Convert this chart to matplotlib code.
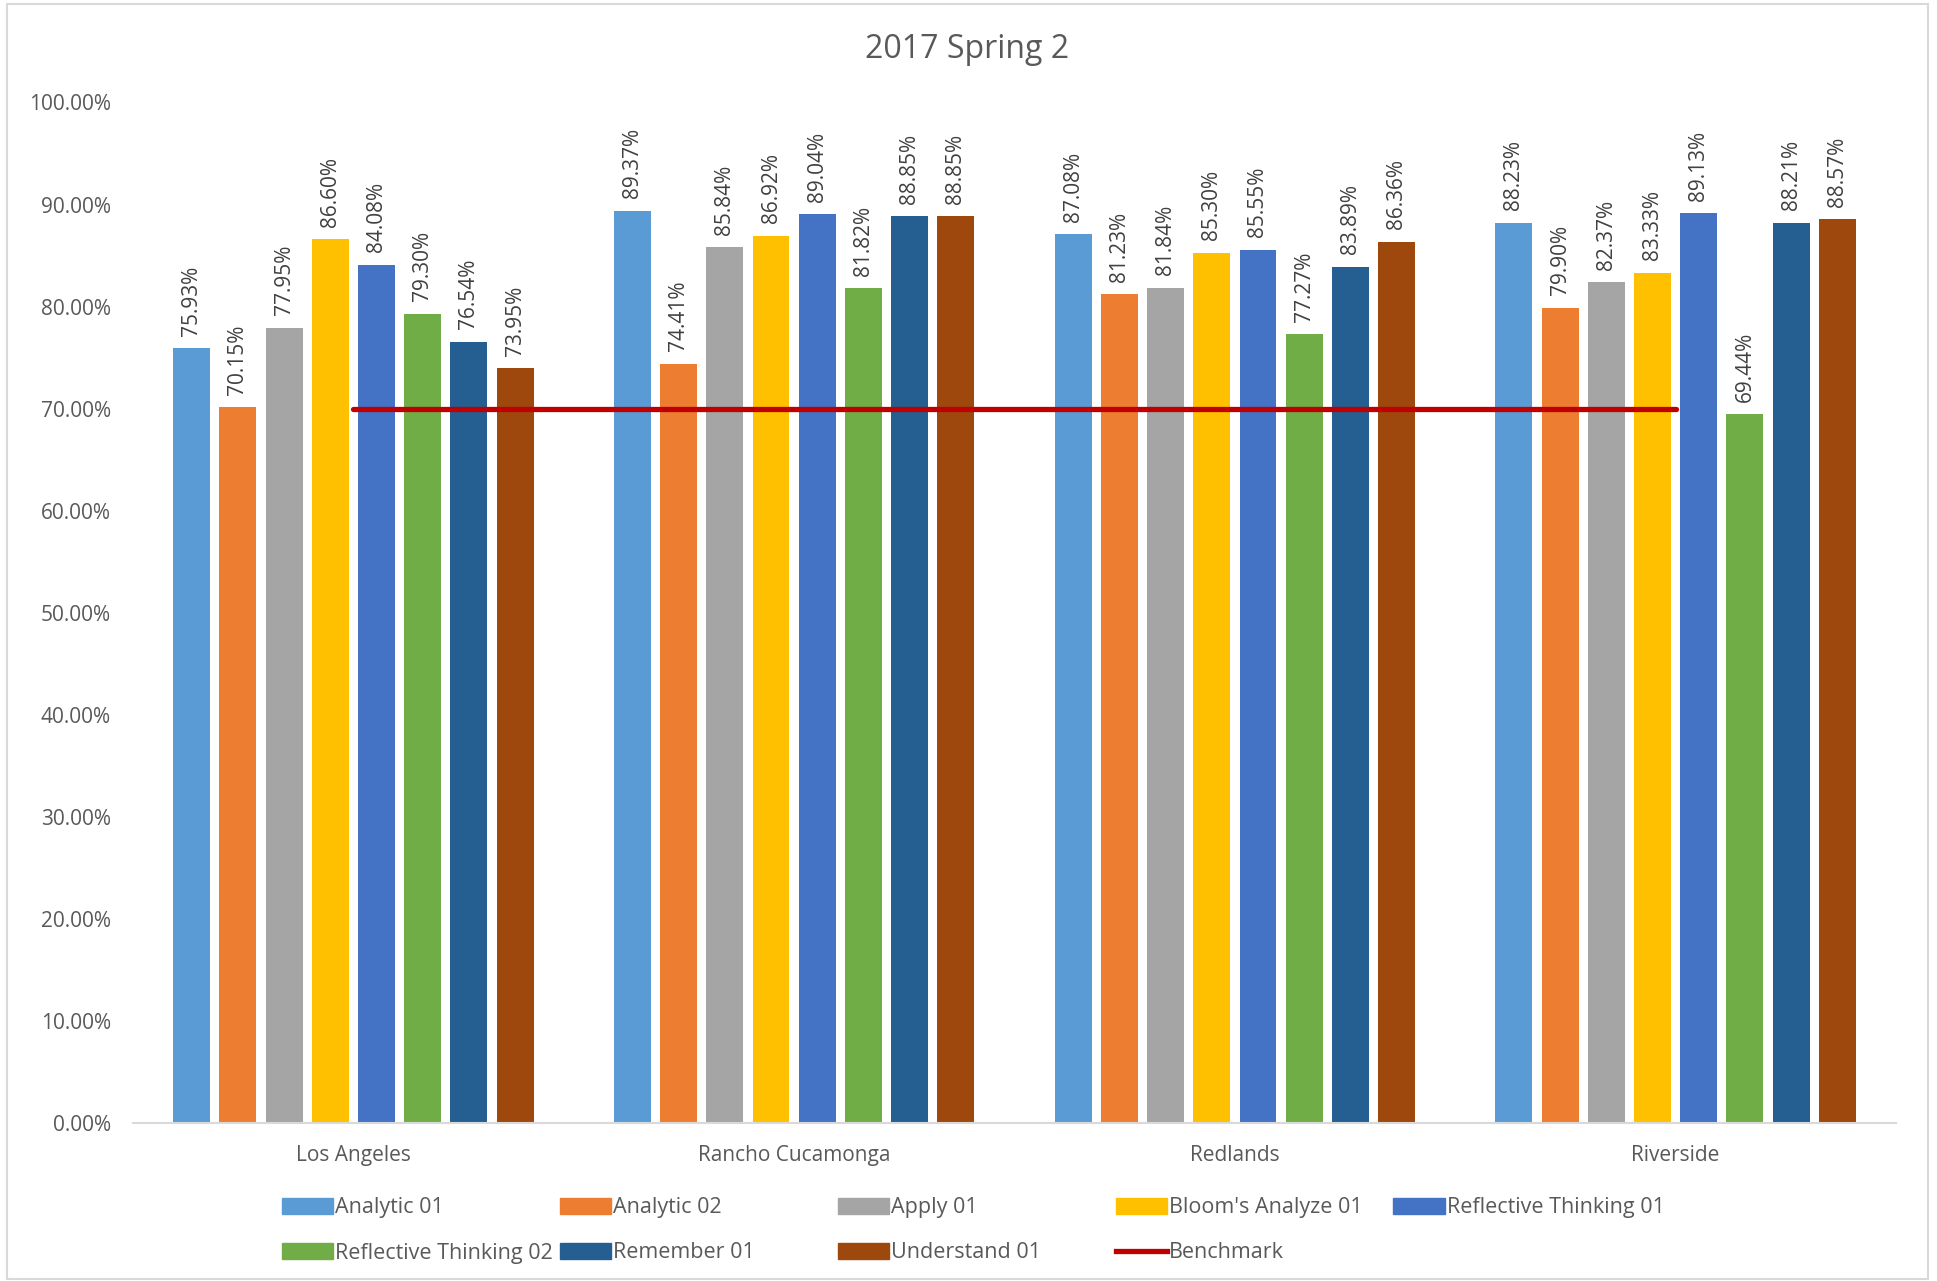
import matplotlib.pyplot as plt
from matplotlib.patches import Rectangle, Patch
from matplotlib.lines import Line2D

plt.rcParams['font.family'] = ['Open Sans', 'DejaVu Sans']

# data
cities = ["Los Angeles", "Rancho Cucamonga", "Redlands", "Riverside"]
series_names = ["Analytic 01", "Analytic 02", "Apply 01", "Bloom's Analyze 01",
                "Reflective Thinking 01", "Reflective Thinking 02", "Remember 01", "Understand 01"]
analytic_01 = [75.93, 89.37, 87.08, 88.23]
analytic_02 = [70.15, 74.41, 81.23, 79.90]
apply_01 = [77.95, 85.84, 81.84, 82.37]
blooms_analyze_01 = [86.60, 86.92, 85.30, 83.33]
reflective_01 = [84.08, 89.04, 85.55, 89.13]
reflective_02 = [79.30, 81.82, 77.27, 69.44]
remember_01 = [76.54, 88.85, 83.89, 88.21]
understand_01 = [73.95, 88.85, 86.36, 88.57]
benchmark = [70, 70, 70, 70]
yticks = [0, 10, 20, 30, 40, 50, 60, 70, 80, 90, 100]

series = [analytic_01, analytic_02, apply_01, blooms_analyze_01,
          reflective_01, reflective_02, remember_01, understand_01]
colors = ['#5B9BD5', '#ED7D31', '#A5A5A5', '#FFC000',
          '#4472C4', '#70AD47', '#255E91', '#9E480E']

W, H = 1937, 1281
fig = plt.figure(figsize=(W / 100, H / 100), dpi=100)
ax = fig.add_axes([133 / W, 1 - 1123 / H, (1896 - 133) / W, (1123 - 102.5) / H])

x = list(range(len(cities)))
step = 0.1049
bw = 0.0839
for i, (vals, col) in enumerate(zip(series, colors)):
    xs = [c + (i - 3.5) * step for c in x]
    ax.bar(xs, vals, width=bw, color=col, zorder=2)
    for xi, v in zip(xs, vals):
        ax.annotate(f"{v:.2f}%", (xi, v), xytext=(0, 9), textcoords='offset points',
                    rotation=90, ha='center', va='bottom', fontsize=15,
                    color='#404040', annotation_clip=False)

ax.plot(x, benchmark, color='#C00000', lw=3.8, solid_capstyle='round', zorder=3)

ax.set_xlim(-0.5, 3.5)
ax.set_ylim(0, 100)
ax.set_yticks(yticks)
ax.set_yticklabels([f"{t:.2f}%" for t in yticks])
ax.set_xticks(x)
ax.set_xticklabels(cities)
ax.tick_params(axis='y', length=0, pad=16, labelsize=15, labelcolor='#595959')
ax.tick_params(axis='x', length=0, pad=16, labelsize=15, labelcolor='#595959')
for s in ['left', 'right', 'top']:
    ax.spines[s].set_visible(False)
ax.spines['bottom'].set_color('#D9D9D9')
ax.spines['bottom'].set_linewidth(1.5)

fig.text(967 / W, 1 - 50 / H, "2017 Spring 2", ha='center', va='center',
         fontsize=23, color='#595959')

# legend, laid out row by row like the original
handles = [Patch(color=c) for c in colors] + [Line2D([], [], color='#C00000', lw=3.8)]
labels = series_names + ["Benchmark"]
col_x = [281.6, 559.6, 837.5, 1115.5, 1393.4]
row_y = [1208, 1253]
for k, (h, lab) in enumerate(zip(handles, labels)):
    r, c = divmod(k, 5)
    fig.legend([h], [lab], loc='center left',
               bbox_to_anchor=(col_x[c] / W, 1 - row_y[r] / H),
               frameon=False, fontsize=15.5, handlelength=2.4, handleheight=0.7,
               handletextpad=0.1, borderpad=0, borderaxespad=0,
               labelcolor='#595959')

fig.patches.append(Rectangle((7 / W, 1 - 1279 / H), (1928 - 7) / W, (1279 - 4) / H,
                             transform=fig.transFigure, fill=False,
                             edgecolor='#D9D9D9', lw=1.5))

fig.savefig('out.png', dpi=100, facecolor='white')
